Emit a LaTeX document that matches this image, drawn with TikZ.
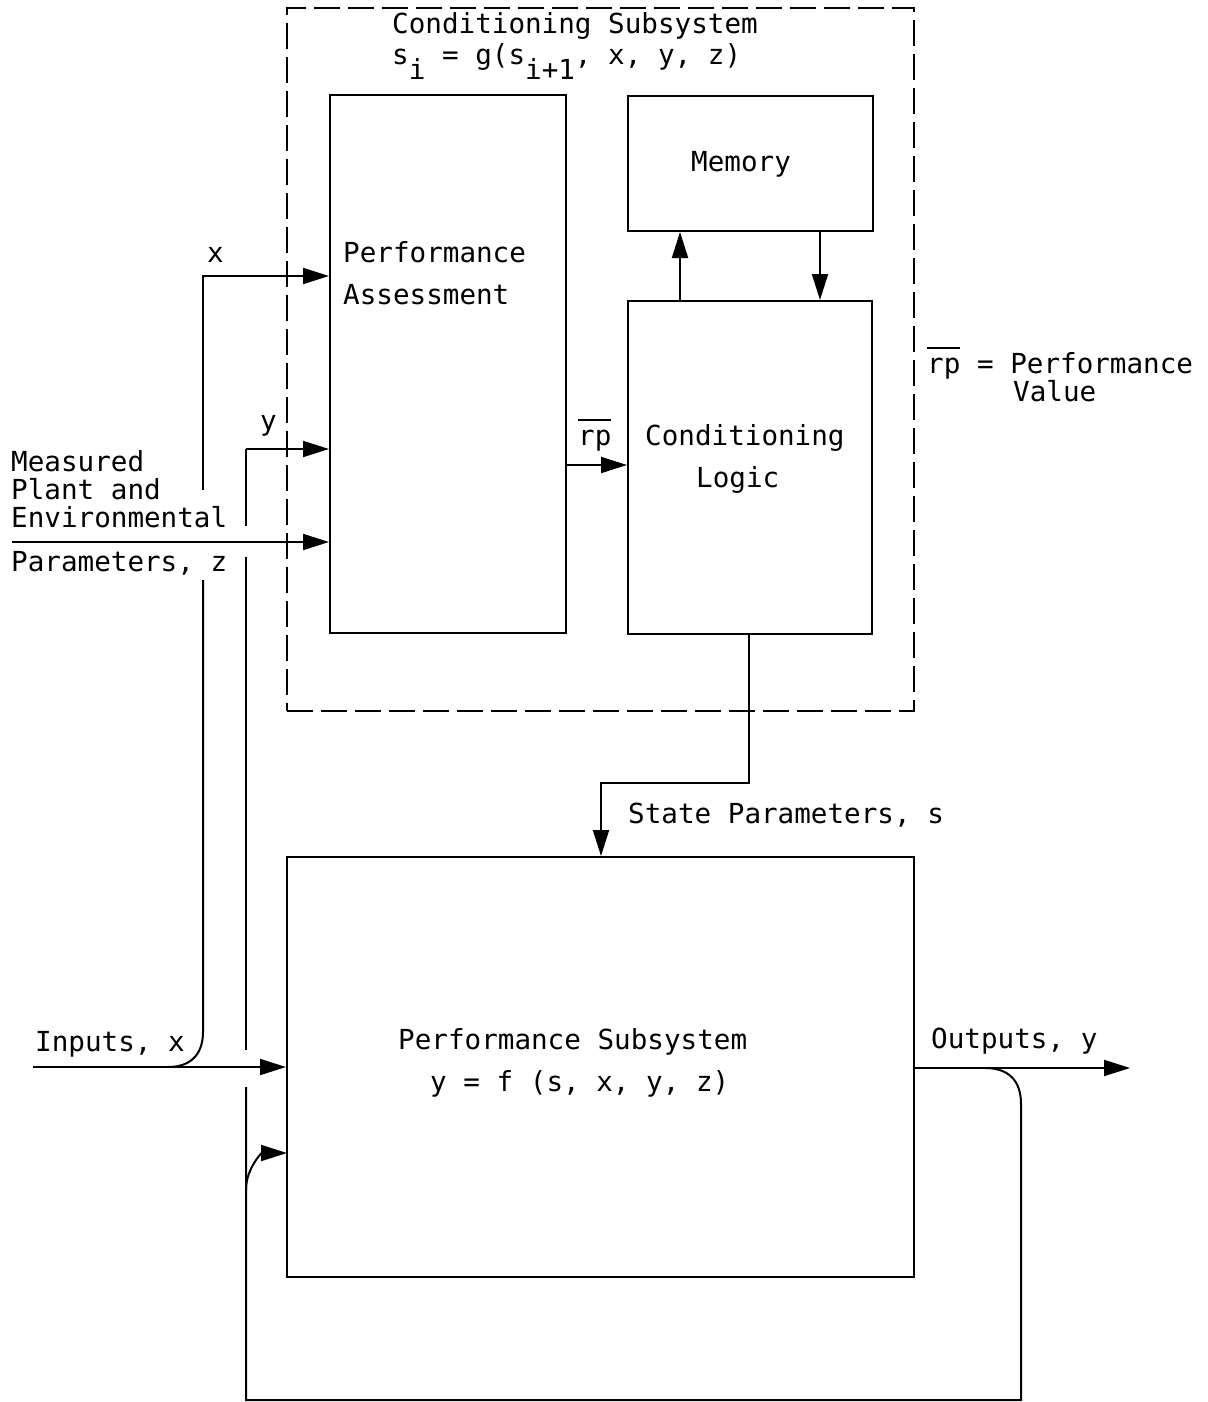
\documentclass[tikz,border=0pt]{standalone}
\usepackage{fontspec}
\setmainfont{DejaVu Sans Mono}
\usetikzlibrary{arrows.meta}
\newcommand\lowr[1]{\raisebox{-15pt}{#1}}
\newcommand\ovl[1]{\makebox[0pt][l]{\rule[24pt]{33pt}{2pt}}#1}
\begin{document}
\begin{tikzpicture}[x=1pt,y=-1pt,
  every node/.style={font=\fontsize{27.6}{42}\selectfont, inner sep=0pt},
  box/.style={draw, line width=2pt},
  ln/.style={line width=2pt},
  arr/.style={line width=2pt, -{Triangle[length=26pt,width=16pt]}},
  lbl/.style={anchor=base west},
]
\useasboundingbox (0,0) rectangle (1207,1402);

% boxes
\node[box, dash pattern=on 26pt off 8pt, minimum width=627pt, minimum height=703pt] (cond) at (600.5,359.5) {};
\node[box, minimum width=236pt, minimum height=538pt] (pa) at (448,364) {};
\node[box, minimum width=245pt, minimum height=135pt] (mem) at (750.5,163.5) {};
\node[box, minimum width=244pt, minimum height=333pt] (cl) at (750,467.5) {};
\node[box, minimum width=627pt, minimum height=420pt] (ps) at (600.5,1067) {};

% texts
\node[lbl] (cst) at (392,34) {Conditioning Subsystem};
\node[lbl] (ceq) at (392,65) {s\lowr{i} = g(s\lowr{i+1}, x, y, z)};
\node[lbl] (pa1) at (343,262) {Performance};
\node[lbl] (pa2) at (343,304) {Assessment};
\node[lbl] (memt) at (691,171) {Memory};
\node[lbl] (cl1) at (645,445) {Conditioning};
\node[lbl] (cl2) at (696,487) {Logic};
\node[lbl] (rpl) at (578,445) {\ovl{rp}};
\node[lbl] (leg1) at (927,373) {\ovl{rp} = Performance};
\node[lbl] (leg2) at (1013,401) {Value};
\node[lbl] (xl) at (207,262) {x};
\node[lbl] (yl) at (260,430) {y};
\node[lbl] (m1) at (11,471) {Measured};
\node[lbl] (m2) at (11,499) {Plant and};
\node[lbl] (m3) at (11,527) {Environmental};
\node[lbl] (m4) at (11,571) {Parameters, z};
\node[lbl] (ps1) at (398,1049) {Performance Subsystem};
\node[lbl] (ps2) at (430,1091) {y = f (s, x, y, z)};
\node[lbl] (inl) at (35,1051) {Inputs, x};
\node[lbl] (outl) at (931,1048) {Outputs, y};
\node[lbl] (stl) at (628,823) {State Parameters, s};

% coordinates
\coordinate (in0) at (33,1067);
\coordinate (xc) at (168,1067);
\coordinate (xa) at (203,276);
\coordinate (ya) at (246,449);
\coordinate (z0) at (12,542);
\coordinate (rpy) at (566,465);
\coordinate (mu) at (680,301);
\coordinate (md) at (820,231);
\coordinate (s1) at (749,783);
\coordinate (s2) at (601,783);
\coordinate (oc) at (985,1068);
\coordinate (oend) at (1130,1068);
\coordinate (fbR) at (1021,1400);
\coordinate (fbL) at (246,1400);
\coordinate (fbb) at (246,1190);
\coordinate (fbt) at (287,1153);

% inputs and x branch
\draw[arr] (in0) -- (ps.west);
\draw[ln] (xc) .. controls (190,1067) and (203,1055) .. (203,1032) -- (203,580);
\draw[arr] (203,490) -- (xa) -- (xa -| pa.west);
% z
\draw[arr] (z0) -- (z0 -| pa.west);
% y and feedback
\draw[arr] (ya) -- (ya -| pa.west);
\draw[ln] (ya) -- (246,526);
\draw[ln] (246,557) -- (246,1050);
\draw[ln] (oc) .. controls (1008,1068) and (1021,1080) .. (1021,1104) -- (fbR) -- (fbL) -- (246,1087);
\draw[arr] (fbb) .. controls (246,1168) and (262,1153) .. (fbt);
% rp
\draw[arr] (rpy) -- (rpy -| cl.west);
% memory
\draw[arr] (mu) -- (mu |- mem.south);
\draw[arr] (md) -- (md |- cl.north);
% state
\draw[arr] (s1 |- cl.south) -- (s1) -- (s2) -- (s2 |- ps.north);
% output
\draw[arr] (ps.east |- oc) -- (oend);
\end{tikzpicture}
\end{document}
